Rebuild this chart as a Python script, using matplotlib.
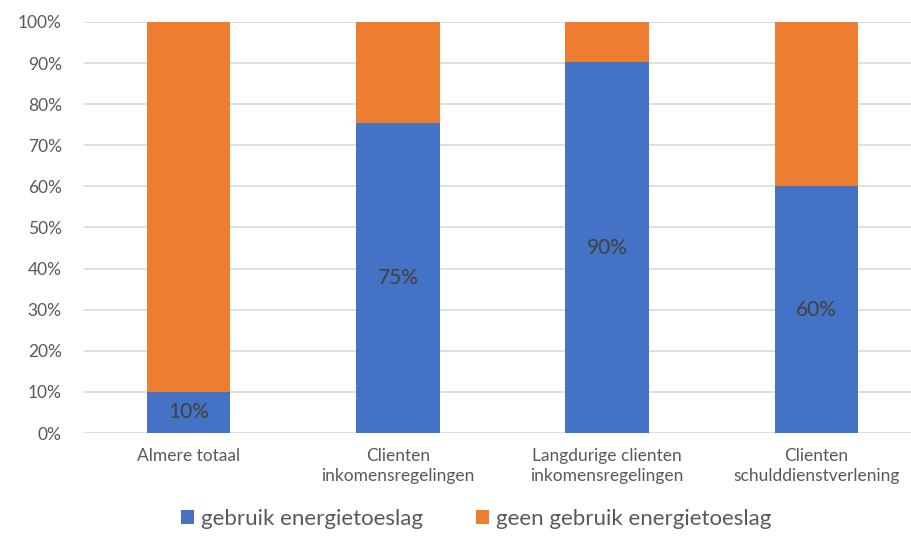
import matplotlib
matplotlib.use("Agg")
import matplotlib.pyplot as plt
import numpy as np

categories = ["Almere totaal", "Clienten\ninkomensregelingen",
              "Langdurige clienten\ninkomensregelingen", "Clienten\nschulddienstverlening"]
gebruik = [10.0, 75.4, 90.2, 60.0]
geen = [100 - v for v in gebruik]
labels = ["10%", "75%", "90%", "60%"]
yticks = list(range(0, 101, 10))
ytick_labels = [f"{t}%" for t in yticks]

plt.rcParams['font.family'] = ['Lato', 'DejaVu Sans']
fig = plt.figure(figsize=(9.12, 5.41), dpi=100)
ax = fig.add_axes([84/912, 1 - 433/541, (921 - 84)/912, (433 - 22)/541])

x = np.arange(len(categories))
blue = "#4472C4"
orange = "#ED7D31"
b1 = ax.bar(x, gebruik, width=0.4, color=blue, label="gebruik energietoeslag", zorder=3)
b2 = ax.bar(x, geen, width=0.4, bottom=gebruik, color=orange, label="geen gebruik energietoeslag", zorder=3)

for xi, v, lab in zip(x, gebruik, labels):
    ax.text(xi, v / 2, lab, ha="center", va="center", fontsize=15, color="#404040", zorder=4)

ax.set_xlim(-0.5, 3.5)
ax.set_ylim(0, 100)
ax.set_yticks(yticks)
ax.set_yticklabels(ytick_labels, fontsize=12.5, color="#595959")
ax.set_xticks(x)
ax.set_xticklabels(categories, fontsize=12.5, color="#595959", linespacing=1.25)
ax.tick_params(axis="both", length=0)
ax.tick_params(axis="x", pad=11)
ax.tick_params(axis="y", pad=16)
ax.grid(axis="y", color="#D9D9D9", linewidth=1.2, zorder=0)
for s in ax.spines.values():
    s.set_visible(False)

leg = fig.legend(handles=[b1, b2], loc="lower center", bbox_to_anchor=(0.522, -0.015), ncol=2,
                 frameon=False, fontsize=16, handlelength=0.6, handleheight=0.6,
                 handletextpad=0.3, columnspacing=2.4, labelcolor="#595959")

fig.savefig("out.png", dpi=100)
